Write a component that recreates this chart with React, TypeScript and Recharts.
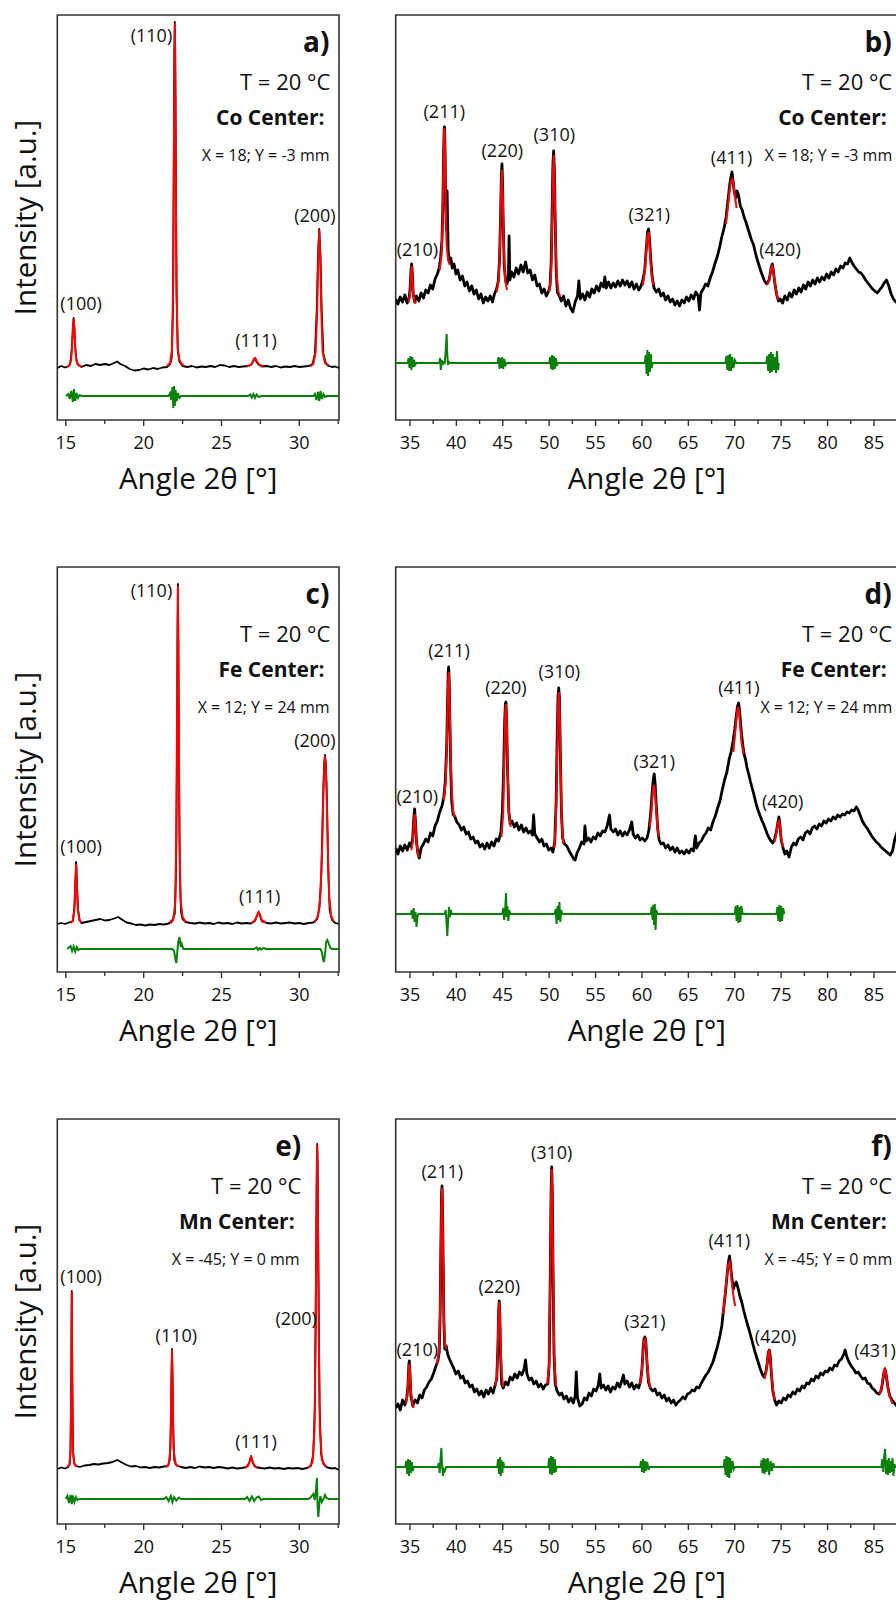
import React from 'react';
import { LineChart, Line, XAxis, YAxis, ReferenceDot, ReferenceArea } from 'recharts';

type P = [number, number];

const FONT = '"Open Sans", sans-serif';
const FRAME = '#333';

// ---------- axis ticks ----------
const leftTicks = [15, 17.5, 20, 22.5, 25, 27.5, 30, 32.5];
const rightTicks = [35, 37.5, 40, 42.5, 45, 47.5, 50, 52.5, 55, 57.5, 60, 62.5, 65, 67.5, 70, 72.5, 75, 77.5, 80, 82.5, 85, 87.5];
const leftDomain: P = [14.45, 32.55];
const rightDomain: P = [33.46, 87.59];
const yDomain: P = [0, 405];

// ---------- panel a ----------
const aBlack: P[] = [[14.45,52],[14.7,54],[14.95,52.5],[15.2,54],[15.3,58],[15.4,75],[15.45,92],[15.5,102],[15.55,92],[15.6,72],[15.7,58],[15.8,55],[16.0,53],[16.3,55],[16.6,54],[16.9,56],[17.2,55],[17.5,56],[17.8,55],[18.1,57],[18.3,58.5],[18.5,56],[18.8,54],[19.1,51],[19.4,49.5],[19.7,50],[20.0,51.5],[20.3,50.5],[20.6,52],[20.9,51],[21.2,52.5],[21.5,53],[21.7,56],[21.8,62],[21.88,110],[21.93,250],[21.97,370],[22.0,398],[22.03,370],[22.07,250],[22.12,120],[22.2,68],[22.3,58],[22.5,54],[22.8,53],[23.1,54],[23.4,52.5],[23.7,53.5],[24.0,53],[24.3,54],[24.6,53],[24.9,55],[25.2,54.5],[25.5,53],[25.8,54],[26.1,53],[26.4,53.5],[26.7,54],[26.9,55],[27.05,59],[27.15,62],[27.25,58],[27.4,55],[27.6,53.5],[27.9,54],[28.2,53],[28.5,54],[28.8,52.5],[29.1,53.5],[29.4,53],[29.7,54],[30.0,53],[30.3,53.5],[30.6,54],[30.85,56],[31.0,66],[31.12,110],[31.2,165],[31.28,191],[31.36,165],[31.44,110],[31.55,66],[31.7,57],[31.9,54],[32.1,53],[32.3,53.5],[32.55,52]];
const aRed: P[][] = [
  [[15.1,53],[15.25,55],[15.35,62],[15.42,80],[15.47,96],[15.5,101],[15.53,96],[15.58,80],[15.65,62],[15.75,56],[15.9,54],[16.05,53.5]],
  [[21.5,54],[21.7,57],[21.82,70],[21.9,140],[21.95,290],[22.0,397],[22.05,290],[22.1,140],[22.18,72],[22.3,60],[22.45,56],[22.6,54.5]],
  [[26.6,53.5],[26.85,55],[27.0,58],[27.1,61.5],[27.15,62],[27.2,61],[27.3,58],[27.45,55],[27.7,54]],
  [[30.7,53.5],[30.9,56],[31.05,68],[31.15,110],[31.22,165],[31.28,190],[31.34,165],[31.41,110],[31.5,68],[31.65,57],[31.85,54]],
];
const aGreen: P[] = [[15.0,24],[15.15,26],[15.25,21],[15.35,29],[15.45,18],[15.52,31],[15.6,19],[15.68,27],[15.78,22],[15.88,25],[16.0,24],[21.6,24],[21.7,27],[21.78,20],[21.85,33],[21.9,12],[21.95,34],[22.0,14],[22.05,30],[22.12,19],[22.2,27],[22.3,22],[22.4,24],[26.7,24],[26.85,25.5],[26.95,22.5],[27.05,26],[27.15,22],[27.25,25.5],[27.4,23],[27.55,24],[30.9,24],[31.0,26],[31.1,20],[31.2,28],[31.28,19],[31.36,29],[31.45,21],[31.55,26],[31.65,23],[31.75,24],[32.55,24]];
const aPeakNames = ['(100)', '(110)', '(111)', '(200)'];
const aPeakPos: P[] = [[15.98,110],[20.5,378],[27.22,73],[31.0,198]];

// ---------- panel c ----------
const cBlack: P[] = [[14.45,48],[14.7,49],[14.95,48],[15.2,49.5],[15.45,51],[15.55,65],[15.6,85],[15.66,110],[15.72,85],[15.78,63],[15.88,52],[16.0,49],[16.3,50],[16.6,51],[16.9,52],[17.2,53],[17.5,51.5],[17.8,52],[18.1,53.5],[18.35,55],[18.6,52.5],[18.9,49.5],[19.2,48.5],[19.5,47],[19.8,47.5],[20.1,46.5],[20.4,47.5],[20.7,47],[21.0,48],[21.3,47.5],[21.6,48.5],[21.85,52],[22.0,58],[22.08,100],[22.13,200],[22.17,330],[22.2,388],[22.23,330],[22.27,200],[22.32,100],[22.4,60],[22.5,53],[22.7,50],[23.0,49],[23.3,48.5],[23.6,49.5],[23.9,48.5],[24.2,49],[24.5,48],[24.8,49.5],[25.1,48.5],[25.4,49],[25.7,48],[26.0,49.5],[26.3,48.5],[26.6,49],[26.9,48.5],[27.15,51],[27.3,57],[27.39,60],[27.48,56],[27.6,50.5],[27.9,49],[28.2,48.5],[28.5,49.5],[28.8,48.5],[29.1,49],[29.4,49.5],[29.7,48.5],[30.0,49],[30.3,48],[30.6,49],[30.9,49.5],[31.15,53],[31.3,65],[31.42,100],[31.52,170],[31.6,210],[31.65,217],[31.7,210],[31.78,170],[31.86,100],[31.95,62],[32.1,52],[32.3,49],[32.55,48]];
const cRed: P[][] = [
  [[15.3,49],[15.45,51],[15.55,62],[15.61,88],[15.66,108],[15.71,88],[15.77,62],[15.87,52],[16.0,49.5]],
  [[21.7,48.5],[21.9,52],[22.03,70],[22.1,140],[22.15,270],[22.2,386],[22.25,270],[22.3,140],[22.37,72],[22.5,55],[22.7,50]],
  [[26.9,49],[27.15,51.5],[27.3,57],[27.39,60],[27.48,57],[27.6,51.5],[27.85,49.5]],
  [[31.0,50],[31.2,56],[31.35,75],[31.47,125],[31.56,190],[31.65,216],[31.74,190],[31.83,125],[31.92,75],[32.05,56],[32.2,50.5]],
];
const cGreen: P[] = [[15.08,23],[15.3,26],[15.4,21],[15.5,25.5],[15.6,20.5],[15.7,25],[15.8,22],[15.9,23],[21.85,23],[21.95,21],[22.05,12],[22.1,9],[22.15,18],[22.22,30],[22.3,35],[22.38,25],[22.45,28],[22.55,23],[27.1,23],[27.25,24.5],[27.35,22],[27.45,24],[27.55,22.5],[27.7,24],[27.85,23],[31.35,23],[31.45,20],[31.52,13],[31.58,10],[31.65,17],[31.72,30],[31.8,32],[31.9,28],[32.0,24],[32.1,23],[32.55,23]];
const cPeakNames = ['(100)', '(110)', '(111)', '(200)'];
const cPeakPos: P[] = [[15.98,119],[20.5,375],[27.45,69],[31.0,225]];

// ---------- panel e ----------
const eBlack: P[] = [[14.45,55],[14.7,56.5],[14.95,55.5],[15.15,57],[15.25,60],[15.3,75],[15.34,130],[15.38,233],[15.42,130],[15.46,75],[15.52,61],[15.65,58],[15.9,57],[16.2,58.5],[16.5,59],[16.8,60],[17.1,59.5],[17.4,60.5],[17.7,61],[18.0,62],[18.3,64],[18.6,61.5],[18.9,59],[19.2,57.5],[19.5,58],[19.8,56.5],[20.1,57],[20.4,56],[20.7,57],[21.0,56.5],[21.3,57.5],[21.55,58],[21.68,64],[21.75,100],[21.79,150],[21.82,175],[21.85,150],[21.89,100],[21.96,64],[22.1,58.5],[22.4,57],[22.7,56],[23.0,57],[23.3,56],[23.6,57.5],[23.9,56.5],[24.2,57],[24.5,56],[24.8,57],[25.1,56.5],[25.4,55.5],[25.7,56.5],[26.0,55.5],[26.3,56],[26.6,57],[26.78,61],[26.9,68],[27.02,61],[27.2,57],[27.5,56],[27.8,55.5],[28.1,56.5],[28.4,55.5],[28.7,56],[29.0,55],[29.3,56],[29.6,55.5],[29.9,56],[30.2,55],[30.5,56],[30.75,58],[30.9,70],[31.0,120],[31.07,250],[31.12,360],[31.15,380],[31.18,360],[31.23,250],[31.3,120],[31.4,70],[31.55,60],[31.8,56.5],[32.1,55.5],[32.3,56],[32.55,54]];
const eRed: P[][] = [
  [[15.1,57],[15.22,59],[15.3,72],[15.34,130],[15.38,232],[15.42,130],[15.46,72],[15.55,60],[15.7,57.5]],
  [[21.4,57],[21.6,59],[21.72,75],[21.77,130],[21.82,174],[21.87,130],[21.92,75],[22.05,60],[22.25,57.5]],
  [[26.5,56],[26.7,58],[26.82,63],[26.9,68],[26.98,63],[27.1,58],[27.3,56]],
  [[30.6,56],[30.85,62],[30.98,95],[31.05,190],[31.1,300],[31.15,379],[31.2,300],[31.25,190],[31.32,95],[31.45,64],[31.7,57]],
];
const eGreen: P[] = [[15.0,25],[15.1,28],[15.2,21],[15.3,29],[15.38,20],[15.45,28.5],[15.55,22],[15.65,27],[15.75,24],[15.85,25],[21.3,25],[21.45,27],[21.6,23],[21.75,28],[21.85,22],[21.95,27],[22.1,23.5],[22.25,26.5],[22.4,25],[26.5,25],[26.65,27],[26.8,23],[26.95,27.5],[27.1,23],[27.25,26.5],[27.4,27.5],[27.55,24],[27.7,25],[30.6,25],[30.75,27],[30.9,30],[31.0,24],[31.08,35],[31.13,46],[31.17,20],[31.22,7],[31.28,19],[31.35,28],[31.45,22],[31.55,25],[31.65,29],[31.75,26],[31.9,25],[32.55,25]];
const ePeakNames = ['(100)', '(110)', '(111)', '(200)'];
const ePeakPos: P[] = [[15.98,241],[22.1,182],[27.22,76],[29.8,199]];

// ---------- panel b ----------
const bBlack: P[] = [[33.46,121],[33.7,116],[33.95,123],[34.2,118],[34.45,125],[34.7,117],[34.9,122],[35.0,130],[35.1,148],[35.18,156],[35.26,146],[35.35,126],[35.5,118],[35.7,124],[35.95,119],[36.2,127],[36.45,122],[36.7,130],[36.95,127],[37.2,135],[37.45,131],[37.7,141],[37.95,146],[38.15,152],[38.3,162],[38.45,180],[38.55,220],[38.62,265],[38.68,290],[38.72,293],[38.78,270],[38.85,215],[38.93,190],[39.0,229],[39.05,200],[39.12,168],[39.25,158],[39.4,162],[39.55,152],[39.75,156],[39.95,146],[40.15,150],[40.4,140],[40.65,144],[40.9,134],[41.15,138],[41.4,129],[41.65,134],[41.9,126],[42.15,130],[42.4,121],[42.65,126],[42.9,117],[43.15,123],[43.4,119],[43.65,124],[43.9,118],[44.1,126],[44.3,130],[44.5,138],[44.65,160],[44.75,200],[44.85,245],[44.91,256],[44.97,240],[45.05,195],[45.15,155],[45.3,140],[45.45,136],[45.6,142],[45.68,184],[45.76,140],[45.95,148],[46.2,143],[46.45,152],[46.7,146],[46.95,155],[47.2,148],[47.45,158],[47.7,147],[47.95,150],[48.2,140],[48.45,145],[48.7,134],[48.95,136],[49.2,127],[49.45,131],[49.7,124],[49.95,129],[50.1,135],[50.22,160],[50.32,210],[50.4,255],[50.48,269],[50.56,250],[50.65,200],[50.75,150],[50.88,128],[51.05,125],[51.3,119],[51.55,124],[51.8,114],[52.05,120],[52.3,112],[52.55,108],[52.8,118],[53.05,124],[53.2,139],[53.35,121],[53.6,126],[53.85,120],[54.1,128],[54.35,123],[54.6,131],[54.85,127],[55.1,134],[55.35,129],[55.6,137],[55.85,133],[56.0,143],[56.15,132],[56.4,138],[56.65,132],[56.9,137],[57.15,133],[57.4,139],[57.65,134],[57.9,140],[58.15,135],[58.4,139],[58.65,133],[58.9,138],[59.15,131],[59.4,136],[59.65,130],[59.9,134],[60.1,140],[60.3,150],[60.45,170],[60.6,188],[60.72,191],[60.82,180],[60.95,160],[61.1,143],[61.3,132],[61.55,128],[61.8,131],[62.05,124],[62.3,127],[62.55,120],[62.8,124],[63.05,118],[63.3,121],[63.55,115],[63.8,119],[64.05,114],[64.3,120],[64.55,117],[64.8,123],[65.05,119],[65.3,125],[65.55,121],[65.8,128],[66.05,124],[66.2,110],[66.35,127],[66.6,131],[66.85,136],[67.1,134],[67.35,142],[67.6,148],[67.85,156],[68.1,163],[68.35,172],[68.6,183],[68.85,192],[69.05,202],[69.25,218],[69.45,235],[69.6,244],[69.7,248],[69.8,240],[69.95,228],[70.1,222],[70.25,229],[70.4,225],[70.6,214],[70.8,210],[71.0,203],[71.2,198],[71.4,192],[71.6,186],[71.8,180],[72.0,176],[72.2,168],[72.4,161],[72.6,155],[72.8,149],[73.0,144],[73.2,139],[73.45,136],[73.7,140],[73.85,148],[73.95,154],[74.05,156],[74.15,150],[74.3,138],[74.5,126],[74.7,119],[74.9,121],[75.15,117],[75.4,124],[75.65,120],[75.9,127],[76.15,123],[76.4,130],[76.65,126],[76.9,132],[77.15,128],[77.4,135],[77.65,131],[77.9,138],[78.15,134],[78.4,140],[78.65,136],[78.9,142],[79.15,138],[79.4,143],[79.65,140],[79.9,146],[80.15,142],[80.4,148],[80.65,145],[80.9,151],[81.15,148],[81.4,154],[81.65,152],[81.9,157],[82.15,156],[82.4,162],[82.6,158],[82.85,154],[83.1,151],[83.35,148],[83.6,147],[83.85,144],[84.1,140],[84.35,137],[84.6,134],[84.85,131],[85.1,129],[85.35,127],[85.6,130],[85.85,133],[86.1,137],[86.35,140],[86.6,134],[86.85,126],[87.1,121],[87.35,118],[87.6,120]];
const bRed: P[][] = [
  [[34.85,118],[35.0,125],[35.1,143],[35.18,154],[35.26,143],[35.36,125],[35.5,118],[35.7,117]],
  [[38.2,150],[38.4,165],[38.52,200],[38.6,250],[38.67,288],[38.72,292],[38.78,265],[38.86,210],[38.95,175],[39.1,160],[39.3,155]],
  [[44.35,128],[44.55,140],[44.7,175],[44.8,225],[44.9,250],[45.0,225],[45.1,175],[45.25,140],[45.45,130]],
  [[50.0,128],[50.2,145],[50.32,200],[50.4,245],[50.48,265],[50.56,245],[50.66,195],[50.8,145],[51.0,128],[51.2,123]],
  [[60.1,135],[60.3,148],[60.45,168],[60.6,185],[60.72,188],[60.85,170],[61.0,148],[61.2,135]],
  [[69.05,196],[69.25,212],[69.45,230],[69.6,239],[69.75,241],[69.9,233],[70.05,221],[70.2,212]],
  [[73.5,135],[73.7,140],[73.85,148],[74.0,154],[74.1,152],[74.25,142],[74.45,130],[74.65,120]],
];
const bGreen: P[] = [[33.46,57],[34.75,57],[34.85,62],[34.95,52],[35.05,64],[35.15,50],[35.25,63],[35.35,53],[35.45,60],[35.55,55],[35.7,57],[38.15,57],[38.25,62],[38.32,50],[38.4,60],[38.5,55],[38.6,58],[38.75,57],[38.85,70],[38.95,86],[39.02,65],[39.1,55],[39.2,58],[39.3,57],[44.45,57],[44.55,63],[44.65,51],[44.75,62],[44.85,52],[44.95,63],[45.05,51],[45.15,61],[45.3,55],[45.45,57],[50.0,57],[50.1,63],[50.2,51],[50.3,65],[50.4,50],[50.5,64],[50.6,51],[50.7,62],[50.85,55],[51.0,57],[60.3,57],[60.4,65],[60.5,46],[60.58,70],[60.66,44],[60.75,68],[60.85,48],[60.95,66],[61.05,52],[61.15,57],[69.0,57],[69.1,64],[69.2,50],[69.3,65],[69.4,49],[69.5,66],[69.6,49],[69.7,63],[69.85,52],[70.0,60],[70.15,57],[73.4,57],[73.5,64],[73.6,49],[73.7,66],[73.8,47],[73.9,68],[74.0,48],[74.1,66],[74.2,50],[74.35,63],[74.45,47],[74.55,69],[74.65,50],[74.75,57]];
const bPeakNames = ['(210)', '(211)', '(220)', '(310)', '(321)', '(411)', '(420)'];
const bPeakPos: P[] = [[35.8,164],[38.7,302],[44.95,263],[50.55,279],[60.79,199],[69.66,256],[74.87,164]];

// ---------- panel d ----------
const dBlack: P[] = [[33.46,124],[33.7,118],[33.95,126],[34.2,121],[34.45,127],[34.7,122],[34.95,129],[35.15,125],[35.3,135],[35.42,155],[35.5,163],[35.58,152],[35.7,130],[35.85,119],[36.0,114],[36.2,124],[36.45,128],[36.7,133],[36.95,130],[37.2,139],[37.45,136],[37.7,146],[37.95,151],[38.2,160],[38.45,166],[38.65,175],[38.8,190],[38.95,225],[39.05,270],[39.12,300],[39.17,305],[39.23,290],[39.3,250],[39.4,200],[39.5,170],[39.65,158],[39.85,155],[40.05,150],[40.3,147],[40.55,142],[40.8,145],[41.05,138],[41.3,140],[41.55,133],[41.8,135],[42.05,129],[42.3,131],[42.55,125],[42.8,128],[43.05,123],[43.3,129],[43.55,124],[43.8,130],[44.05,126],[44.3,133],[44.55,131],[44.8,140],[44.95,160],[45.1,205],[45.2,250],[45.28,268],[45.34,270],[45.42,250],[45.52,200],[45.65,160],[45.8,148],[46.0,151],[46.25,145],[46.5,149],[46.75,142],[47.0,147],[47.25,140],[47.5,144],[47.75,139],[48.0,141],[48.2,137],[48.32,157],[48.45,138],[48.7,134],[48.95,130],[49.2,133],[49.45,126],[49.7,128],[49.95,122],[50.2,124],[50.4,120],[50.6,130],[50.75,170],[50.85,230],[50.95,275],[51.03,284],[51.1,275],[51.2,220],[51.32,160],[51.45,134],[51.65,128],[51.9,126],[52.15,121],[52.4,117],[52.65,113],[52.8,112],[53.0,119],[53.25,124],[53.5,130],[53.75,128],[53.85,146],[54.0,131],[54.25,134],[54.5,130],[54.75,135],[55.0,133],[55.25,139],[55.5,136],[55.75,141],[56.0,140],[56.25,146],[56.5,157],[56.65,143],[56.9,140],[57.15,143],[57.4,137],[57.65,141],[57.9,136],[58.15,140],[58.4,137],[58.65,142],[58.9,150],[59.05,138],[59.3,134],[59.55,137],[59.8,132],[60.05,134],[60.3,131],[60.55,134],[60.75,142],[60.95,160],[61.1,180],[61.22,193],[61.32,198],[61.42,188],[61.55,165],[61.7,143],[61.85,132],[62.05,128],[62.3,129],[62.55,124],[62.8,127],[63.05,122],[63.3,125],[63.55,120],[63.8,124],[64.05,119],[64.3,121],[64.55,118],[64.8,122],[65.05,119],[65.3,123],[65.55,121],[65.75,136],[65.9,124],[66.15,129],[66.4,131],[66.65,136],[66.9,139],[67.15,144],[67.4,142],[67.65,150],[67.9,156],[68.15,164],[68.4,171],[68.65,182],[68.9,192],[69.15,200],[69.4,213],[69.6,220],[69.8,230],[70.0,243],[70.15,255],[70.3,266],[70.42,269],[70.55,258],[70.7,240],[70.85,228],[71.0,218],[71.15,213],[71.3,205],[71.5,198],[71.7,190],[71.9,183],[72.1,176],[72.3,168],[72.5,162],[72.7,157],[72.9,152],[73.1,148],[73.3,143],[73.5,138],[73.7,134],[73.9,131],[74.1,129],[74.3,133],[74.5,141],[74.65,150],[74.76,155],[74.88,146],[75.0,132],[75.2,124],[75.4,118],[75.6,121],[75.85,115],[76.1,125],[76.35,129],[76.6,127],[76.85,133],[77.1,135],[77.35,132],[77.6,139],[77.85,141],[78.1,138],[78.35,144],[78.6,146],[78.85,143],[79.1,148],[79.35,146],[79.6,151],[79.85,149],[80.1,153],[80.35,151],[80.6,155],[80.85,153],[81.1,157],[81.35,155],[81.6,158],[81.85,157],[82.1,160],[82.35,159],[82.6,162],[82.85,161],[83.1,165],[83.3,162],[83.5,157],[83.75,151],[84.0,147],[84.25,144],[84.5,140],[84.75,136],[85.0,133],[85.25,130],[85.5,128],[85.75,125],[86.0,123],[86.25,121],[86.5,119],[86.75,117],[87.0,121],[87.25,133],[87.5,140],[87.6,138]];
const dRed: P[][] = [
  [[35.15,122],[35.3,130],[35.42,150],[35.5,158],[35.58,150],[35.7,130],[35.85,118],[35.95,115]],
  [[38.65,172],[38.85,190],[38.98,230],[39.07,280],[39.17,300],[39.25,280],[39.35,230],[39.48,185],[39.65,160],[39.85,155]],
  [[44.85,135],[45.05,160],[45.17,220],[45.26,260],[45.34,268],[45.42,255],[45.52,205],[45.65,160],[45.85,145]],
  [[50.55,124],[50.72,150],[50.85,215],[50.95,265],[51.03,280],[51.12,265],[51.22,210],[51.35,150],[51.52,128]],
  [[60.85,145],[61.0,158],[61.12,175],[61.22,185],[61.3,187],[61.4,180],[61.52,165],[61.65,146],[61.8,135]],
  [[69.85,220],[70.05,240],[70.2,255],[70.35,265],[70.45,262],[70.6,245],[70.75,228],[70.95,218]],
  [[74.3,130],[74.5,140],[74.65,149],[74.76,151],[74.88,145],[75.02,133],[75.2,125]],
];
const dGreen: P[] = [[33.46,58],[35.1,58],[35.2,62],[35.3,53],[35.4,64],[35.5,50],[35.6,60],[35.7,45],[35.8,55],[35.9,58],[38.75,58],[38.85,62],[38.95,48],[39.02,36],[39.1,50],[39.2,65],[39.3,55],[39.4,62],[39.5,58],[44.95,58],[45.05,64],[45.15,52],[45.25,62],[45.35,79],[45.42,55],[45.5,66],[45.6,51],[45.7,62],[45.8,58],[50.6,58],[50.7,63],[50.8,48],[50.9,66],[51.0,52],[51.1,70],[51.2,50],[51.3,62],[51.4,58],[60.95,58],[61.05,65],[61.15,52],[61.22,67],[61.3,47],[61.38,68],[61.46,42],[61.55,62],[61.65,58],[70.0,58],[70.1,66],[70.2,51],[70.3,67],[70.4,49],[70.5,65],[70.6,50],[70.7,66],[70.85,58],[74.5,58],[74.6,65],[74.7,51],[74.8,67],[74.9,50],[75.0,66],[75.1,51],[75.2,64],[75.35,58]];
const dPeakNames = ['(210)', '(211)', '(220)', '(310)', '(321)', '(411)', '(420)'];
const dPeakPos: P[] = [[35.79,169],[39.2,315],[45.34,278],[51.09,294],[61.32,204],[70.45,278],[75.16,164]];

// ---------- panel f ----------
const fBlack: P[] = [[33.46,116],[33.7,120],[33.95,114],[34.2,124],[34.45,119],[34.65,126],[34.78,138],[34.88,160],[34.93,163],[35.0,150],[35.1,128],[35.3,118],[35.55,124],[35.8,121],[36.05,129],[36.3,126],[36.55,134],[36.8,137],[37.05,142],[37.3,145],[37.55,151],[37.8,158],[38.0,163],[38.15,172],[38.25,210],[38.33,280],[38.4,330],[38.45,338],[38.5,320],[38.58,260],[38.66,200],[38.75,175],[38.9,178],[39.05,170],[39.25,165],[39.45,161],[39.7,156],[39.95,150],[40.2,153],[40.45,146],[40.7,148],[40.95,141],[41.2,143],[41.45,137],[41.7,139],[41.95,132],[42.2,135],[42.45,129],[42.7,133],[42.95,127],[43.2,134],[43.45,130],[43.7,136],[43.95,131],[44.15,138],[44.35,145],[44.48,180],[44.56,215],[44.62,223],[44.68,210],[44.76,170],[44.88,140],[45.05,136],[45.3,142],[45.55,139],[45.8,147],[46.05,144],[46.3,150],[46.55,146],[46.8,152],[47.05,149],[47.3,155],[47.45,164],[47.6,150],[47.85,144],[48.1,146],[48.35,140],[48.6,143],[48.85,137],[49.1,140],[49.35,135],[49.6,139],[49.85,140],[50.0,160],[50.12,250],[50.2,330],[50.27,357],[50.34,330],[50.42,250],[50.52,170],[50.65,140],[50.85,133],[51.1,129],[51.35,131],[51.6,125],[51.85,128],[52.1,122],[52.35,126],[52.6,121],[52.8,128],[52.92,152],[53.05,126],[53.3,118],[53.55,120],[53.8,126],[54.05,124],[54.3,131],[54.55,128],[54.8,135],[55.05,133],[55.3,139],[55.45,150],[55.6,136],[55.85,139],[56.1,134],[56.35,138],[56.6,132],[56.85,137],[57.1,135],[57.35,141],[57.6,137],[57.85,144],[58.0,149],[58.15,140],[58.4,143],[58.65,137],[58.9,141],[59.15,135],[59.4,139],[59.65,136],[59.85,143],[60.0,155],[60.12,175],[60.22,185],[60.32,187],[60.42,182],[60.55,160],[60.7,142],[60.9,136],[61.15,133],[61.4,135],[61.65,129],[61.9,131],[62.15,126],[62.4,129],[62.65,123],[62.9,126],[63.15,121],[63.4,124],[63.65,119],[63.9,122],[64.15,124],[64.4,127],[64.65,125],[64.9,130],[65.15,131],[65.4,134],[65.65,133],[65.9,137],[66.15,136],[66.4,141],[66.65,145],[66.9,149],[67.15,152],[67.4,157],[67.65,162],[67.9,170],[68.15,178],[68.4,188],[68.6,198],[68.8,215],[69.0,232],[69.2,252],[69.35,264],[69.44,268],[69.55,258],[69.7,245],[69.85,235],[70.0,240],[70.15,242],[70.35,236],[70.55,228],[70.75,222],[70.95,214],[71.15,207],[71.35,200],[71.55,194],[71.75,187],[71.95,180],[72.15,173],[72.35,167],[72.55,161],[72.75,155],[72.95,150],[73.15,147],[73.35,152],[73.5,161],[73.62,172],[73.72,174],[73.82,168],[73.95,150],[74.1,133],[74.3,124],[74.5,119],[74.75,123],[75.0,121],[75.25,126],[75.5,124],[75.75,129],[76.0,127],[76.25,132],[76.5,130],[76.75,135],[77.0,133],[77.25,138],[77.5,136],[77.75,141],[78.0,140],[78.25,145],[78.5,143],[78.75,148],[79.0,146],[79.25,151],[79.5,149],[79.75,153],[80.0,152],[80.25,156],[80.5,154],[80.75,159],[81.0,158],[81.25,163],[81.5,165],[81.75,170],[81.9,174],[82.05,168],[82.3,162],[82.55,158],[82.8,155],[83.05,151],[83.3,152],[83.55,148],[83.8,145],[84.05,146],[84.3,141],[84.55,140],[84.8,136],[85.05,134],[85.3,131],[85.55,130],[85.75,133],[85.9,140],[86.05,150],[86.18,155],[86.3,150],[86.5,137],[86.7,128],[86.95,124],[87.2,121],[87.45,118],[87.6,117]];
const fRed: P[][] = [
  [[34.6,121],[34.75,132],[34.85,152],[34.93,160],[35.0,152],[35.1,132],[35.25,121],[35.4,116]],
  [[37.9,160],[38.1,170],[38.22,200],[38.32,270],[38.4,325],[38.45,336],[38.5,320],[38.58,255],[38.68,195],[38.8,178],[38.95,175]],
  [[44.2,138],[44.38,150],[44.48,185],[44.56,215],[44.62,222],[44.68,212],[44.77,180],[44.88,150],[45.05,137]],
  [[49.8,140],[49.98,158],[50.1,240],[50.2,325],[50.27,355],[50.34,325],[50.44,240],[50.56,160],[50.75,138]],
  [[59.8,140],[59.98,153],[60.12,172],[60.22,183],[60.32,186],[60.42,181],[60.55,162],[60.7,145],[60.9,136]],
  [[68.75,210],[68.95,230],[69.15,248],[69.3,259],[69.44,262],[69.56,255],[69.7,240],[69.9,225],[70.05,218]],
  [[73.2,145],[73.38,152],[73.52,163],[73.63,172],[73.72,173],[73.83,165],[73.98,148],[74.15,132],[74.3,124]],
  [[85.6,130],[85.8,136],[85.95,145],[86.08,153],[86.19,155],[86.3,150],[86.45,140],[86.6,131],[86.8,125],[87.0,120]],
];
const fGreen: P[] = [[33.46,57],[34.5,57],[34.6,63],[34.7,50],[34.8,65],[34.9,48],[35.0,64],[35.1,51],[35.2,62],[35.3,53],[35.4,57],[38.0,57],[38.1,61],[38.2,51],[38.3,66],[38.38,76],[38.45,60],[38.55,48],[38.62,55],[38.75,53],[38.9,57],[44.4,57],[44.5,65],[44.6,50],[44.7,67],[44.78,48],[44.86,64],[44.95,51],[45.05,62],[45.15,57],[49.9,57],[50.0,66],[50.1,50],[50.2,68],[50.3,49],[50.4,67],[50.5,51],[50.6,65],[50.7,52],[50.8,57],[59.8,57],[59.9,63],[60.0,52],[60.1,65],[60.2,51],[60.3,63],[60.4,53],[60.55,62],[60.7,54],[60.8,57],[68.8,57],[68.9,65],[69.0,49],[69.1,68],[69.2,47],[69.3,67],[69.4,46],[69.5,66],[69.6,51],[69.75,63],[69.9,55],[70.0,57],[72.8,57],[72.9,64],[73.0,51],[73.1,66],[73.2,50],[73.3,65],[73.4,52],[73.55,66],[73.7,49],[73.85,63],[74.0,53],[74.15,61],[74.25,57],[85.8,57],[85.9,65],[86.0,52],[86.1,68],[86.2,75],[86.3,50],[86.4,64],[86.5,49],[86.6,66],[86.7,51],[86.8,63],[86.9,52],[87.0,66],[87.1,48],[87.2,60],[87.3,57],[87.6,57]];
const fPeakNames = ['(210)', '(211)', '(220)', '(310)', '(321)', '(411)', '(420)', '(431)'];
const fPeakPos: P[] = [[35.79,168],[38.48,346],[44.62,231],[50.27,365],[60.32,196],[69.41,277],[74.4,181],[85.11,167]];

// ---------- annotations ----------
const panelLetters = ['a)', 'b)', 'c)', 'd)', 'e)', 'f)'];
const tempText = 'T = 20 °C';
const centerNames = ['Co Center:', 'Fe Center:', 'Mn Center:'];
const coordTexts = ['X = 18; Y = -3 mm', 'X = 12; Y = 24 mm', 'X = -45; Y = 0 mm'];
const leftAnnoX: P[][] = [[[31.94, 31.99], [31.62, 31.94]], [[31.94, 31.99], [31.62, 31.94]], [[30.13, 30.13], [29.7, 30.02]]];
const rightAnnoX: P[] = [[86.91, 86.97], [86.37, 86.97]];
const annoY = [368, 330.5, 295, 259];

const xTitle = 'Angle 2θ [°]';
const yTitle = 'Intensity [a.u.]';

// ---------- helpers ----------
const toPts = (arr: P[]) => arr.map(([x, y]) => ({ x, y }));
const joinSegs = (segs: P[][]) =>
  segs.flatMap((s, i) => {
    const pts: { x: number; y: number | null }[] = toPts(s);
    if (i < segs.length - 1) {
      pts.push({ x: (s[s.length - 1][0] + segs[i + 1][0][0]) / 2, y: null });
    }
    return pts;
  });

const isMajor = (v: number) => Math.abs(v / 5 - Math.round(v / 5)) < 1e-6;

// bottom ticks point outward (down), labels below
const BottomTick = (props: any) => {
  const { x, y, payload } = props;
  const v = payload.value;
  const major = isMajor(v);
  return (
    <g>
      <line x1={x} x2={x} y1={y} y2={y + (major ? 6 : 4)} stroke={FRAME} strokeWidth={1.4} />
      {major && (
        <text x={x} y={y + 29} textAnchor="middle" fontSize={18} fill="#111" fontFamily={FONT}>
          {v}
        </text>
      )}
    </g>
  );
};

// top ticks point inward (down into the plot)
const TopTick = (props: any) => {
  const { x, y, payload } = props;
  const major = isMajor(payload.value);
  return <line x1={x} x2={x} y1={y} y2={y + (major ? 8 : 4)} stroke={FRAME} strokeWidth={1.4} />;
};

const textShape = (txt: string, size: number, weight: number, anchor: string) => (p: any) => (
  <text x={p.cx} y={p.cy} textAnchor={anchor} fontSize={size} fontWeight={weight} fill="#111" fontFamily={FONT}>
    {txt}
  </text>
);

type PanelCfg = {
  side: 'L' | 'R';
  top: number;
  black: P[];
  red: P[][];
  green: P[];
  peakNames: string[];
  peakPos: P[];
  letter: string;
  center: string;
  coords: string;
  annoX: P[];
};

function Panel({ cfg }: { cfg: PanelCfg }) {
  const left = cfg.side === 'L';
  const H = 525;
  const plotLeft = left ? 57.3 : 395.7;
  const plotRight = left ? 339 : 898;
  const divLeft = left ? 0 : 340;
  const W = left ? 345 : 580;
  const margin = { top: 14, bottom: H - 15 - 405 - 1, left: plotLeft - divLeft - 1, right: W - (plotRight - divLeft) };
  const domain = left ? leftDomain : rightDomain;
  const ticks = left ? leftTicks : rightTicks;
  const blackW = left ? 1.8 : 2.8;
  const annoTexts: [string, number, number][] = [
    [cfg.letter, 28, 700],
    [tempText, 22, 400],
    [cfg.center, 21, 700],
    [cfg.coords, 16, 400],
  ];
  const annoXs = [cfg.annoX[0][0], cfg.annoX[0][1], cfg.annoX[1][0], cfg.annoX[1][1]];
  return (
    <div style={{ position: 'absolute', left: divLeft, top: cfg.top - 15 }}>
      <LineChart width={W} height={H} margin={margin}>
        <XAxis
          xAxisId="b"
          type="number"
          dataKey="x"
          domain={domain}
          allowDataOverflow
          ticks={ticks}
          interval={0}
          tick={BottomTick}
          tickSize={0}
          tickMargin={0}
          axisLine={false}
          tickLine={false}
          height={1}
          label={{
            content: (p: any) => {
              const vb = p.viewBox || {};
              return (
                <text x={vb.x + vb.width / 2} y={vb.y + 69} textAnchor="middle" fontSize={29.5} fill="#111" fontFamily={FONT}>
                  {xTitle}
                </text>
              );
            },
          }}
        />
        <XAxis
          xAxisId="t"
          orientation="top"
          type="number"
          domain={domain}
          allowDataOverflow
          ticks={ticks}
          interval={0}
          tick={TopTick}
          tickSize={0}
          tickMargin={0}
          axisLine={false}
          tickLine={false}
          height={1}
        />
        <YAxis
          type="number"
          domain={yDomain}
          allowDataOverflow
          width={1}
          tick={false}
          axisLine={false}
          tickLine={false}
          label={
            left
              ? {
                  content: (p: any) => {
                    const vb = p.viewBox || {};
                    const cx = 36;
                    const cy = vb.y + vb.height / 2;
                    return (
                      <text x={cx} y={cy} transform={`rotate(-90, ${cx}, ${cy})`} textAnchor="middle" fontSize={29.5} fill="#111" fontFamily={FONT}>
                        {yTitle}
                      </text>
                    );
                  },
                }
              : undefined
          }
        />
        <ReferenceArea xAxisId="b" x1={domain[0]} x2={domain[1]} y1={yDomain[0]} y2={yDomain[1]} fill="none" fillOpacity={0} stroke={FRAME} strokeWidth={1.6} ifOverflow="visible" />
        <Line xAxisId="b" data={toPts(cfg.black)} dataKey="y" stroke="#000" strokeWidth={blackW} dot={false} isAnimationActive={false} type="linear" strokeLinejoin="round" />
        <Line xAxisId="b" data={joinSegs(cfg.red)} dataKey="y" stroke="#ff0000" strokeWidth={2} dot={false} isAnimationActive={false} type="linear" connectNulls={false} />
        <Line xAxisId="b" data={toPts(cfg.green)} dataKey="y" stroke="#0a800a" strokeWidth={2} dot={false} isAnimationActive={false} type="linear" />
        {cfg.peakNames.map((name, i) => (
          <ReferenceDot key={name} xAxisId="b" x={cfg.peakPos[i][0]} y={cfg.peakPos[i][1]} r={0} ifOverflow="visible" shape={textShape(name, 18, 400, 'middle')} />
        ))}
        {annoTexts.map(([t, size, weight], i) => (
          <ReferenceDot key={'an' + i} xAxisId="b" x={annoXs[i]} y={annoY[i]} r={0} ifOverflow="visible" shape={textShape(t, size, weight, 'end')} />
        ))}
      </LineChart>
    </div>
  );
}

const panels: PanelCfg[] = [
  { side: 'L', top: 15, black: aBlack, red: aRed, green: aGreen, peakNames: aPeakNames, peakPos: aPeakPos, letter: panelLetters[0], center: centerNames[0], coords: coordTexts[0], annoX: leftAnnoX[0] },
  { side: 'R', top: 15, black: bBlack, red: bRed, green: bGreen, peakNames: bPeakNames, peakPos: bPeakPos, letter: panelLetters[1], center: centerNames[0], coords: coordTexts[0], annoX: rightAnnoX },
  { side: 'L', top: 567, black: cBlack, red: cRed, green: cGreen, peakNames: cPeakNames, peakPos: cPeakPos, letter: panelLetters[2], center: centerNames[1], coords: coordTexts[1], annoX: leftAnnoX[1] },
  { side: 'R', top: 567, black: dBlack, red: dRed, green: dGreen, peakNames: dPeakNames, peakPos: dPeakPos, letter: panelLetters[3], center: centerNames[1], coords: coordTexts[1], annoX: rightAnnoX },
  { side: 'L', top: 1119, black: eBlack, red: eRed, green: eGreen, peakNames: ePeakNames, peakPos: ePeakPos, letter: panelLetters[4], center: centerNames[2], coords: coordTexts[2], annoX: leftAnnoX[2] },
  { side: 'R', top: 1119, black: fBlack, red: fRed, green: fGreen, peakNames: fPeakNames, peakPos: fPeakPos, letter: panelLetters[5], center: centerNames[2], coords: coordTexts[2], annoX: rightAnnoX },
];

export default function App() {
  return (
    <>
      <style>{'body{margin:0;}'}</style>
      <div style={{ position: 'relative', width: 896, height: 1602, overflow: 'hidden', background: '#fff', fontFamily: FONT }}>
        {panels.map((cfg, i) => (
          <Panel key={i} cfg={cfg} />
        ))}
      </div>
    </>
  );
}
